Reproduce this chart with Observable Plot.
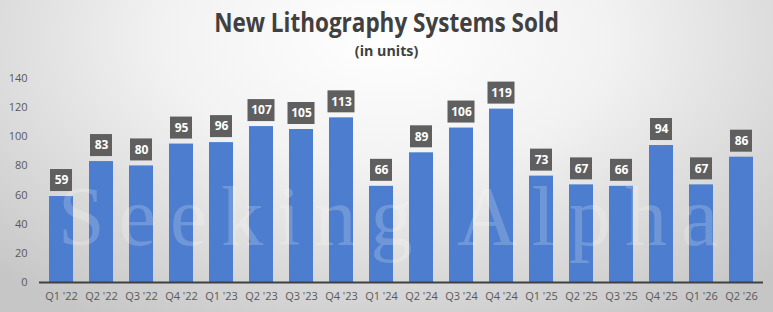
<!DOCTYPE html>
<html>
<head>
<meta charset="utf-8">
<script src="https://cdn.jsdelivr.net/npm/d3@7"></script>
<script src="https://cdn.jsdelivr.net/npm/@observablehq/plot@0.6"></script>
<style>
  html, body { margin: 0; padding: 0; }
  #wrap {
    position: relative; width: 773px; height: 312px; overflow: hidden;
    background: radial-gradient(ellipse 72% 105% at 50% 12%, #ffffff 0%, #f2f2f2 40%, #c6c6c6 100%);
    font-family: "Open Sans", sans-serif;
  }
  #title {
    position: absolute; left: 0; width: 773px; top: 5px; text-align: center;
    font-size: 26px; line-height: 34px; font-weight: 700; color: #404040;
    transform: scaleX(0.865); transform-origin: 387px 0;
  }
  #subtitle {
    position: absolute; left: 0; width: 773px; top: 40px; text-align: center;
    font-size: 15px; line-height: 20px; font-weight: 700; color: #404040;
    transform: scaleX(0.95); transform-origin: 387px 0;
  }
  #chart { position: absolute; left: 0; top: 0; }
  #wm {
    position: absolute; left: 58px; top: 189px; white-space: nowrap;
    font-family: "Liberation Serif", serif; font-size: 84px; line-height: 56px; letter-spacing: 14px;
    color: rgba(255,255,255,0.2); pointer-events: none;
  }
</style>
</head>
<body>
<div id="wrap">
  <div id="title">New Lithography Systems Sold</div>
  <div id="subtitle">(in units)</div>
  <div id="chart"></div>
  <div id="wm">Seeking Alpha</div>
</div>
<script>
const quarters = ["Q1 '22","Q2 '22","Q3 '22","Q4 '22","Q1 '23","Q2 '23","Q3 '23","Q4 '23","Q1 '24","Q2 '24","Q3 '24","Q4 '24","Q1 '25","Q2 '25","Q3 '25","Q4 '25","Q1 '26","Q2 '26"];
const units = [59,83,80,95,96,107,105,113,66,89,106,119,73,67,66,94,67,86];
const yTicks = [0,20,40,60,80,100,120,140];

const data = quarters.map((q, i) => ({q, v: units[i]}));
const two = data.filter(d => d.v < 100);
const three = data.filter(d => d.v >= 100);

const chart = Plot.plot({
  width: 773,
  height: 312,
  marginTop: 78,
  marginBottom: 30,
  marginLeft: 39,
  marginRight: 10,
  style: {background: "transparent", fontFamily: "Open Sans, sans-serif", fontSize: "11px", color: "#595959"},
  x: {domain: quarters, paddingInner: 0.4, paddingOuter: 0.2, label: null},
  y: {domain: [0, 140], label: null},
  marks: [
    Plot.axisY({ticks: yTicks, tickSize: 0, tickPadding: 12, fontSize: 11, fill: "#595959"}),
    Plot.axisX({tickSize: 0, tickPadding: 10, fontSize: 11, fill: "#595959"}),
    Plot.barY(data, {x: "q", y: "v", fill: "#4c7dcf"}),
    Plot.ruleY([0], {stroke: "#404040", strokeWidth: 2}),
    Plot.barY(two, {x: "q", y1: "v", y2: "v", fill: "#5f5f5f", insetTop: -27, insetBottom: 5, insetLeft: 1, insetRight: 1}),
    Plot.barY(three, {x: "q", y1: "v", y2: "v", fill: "#5f5f5f", insetTop: -27, insetBottom: 5, insetLeft: -1.5, insetRight: -1.5}),
    Plot.text(data, {x: "q", y: "v", text: d => String(d.v), dy: -16, fill: "white", fontWeight: "bold", fontSize: 12})
  ]
});
document.getElementById("chart").appendChild(chart);
</script>
</body>
</html>
